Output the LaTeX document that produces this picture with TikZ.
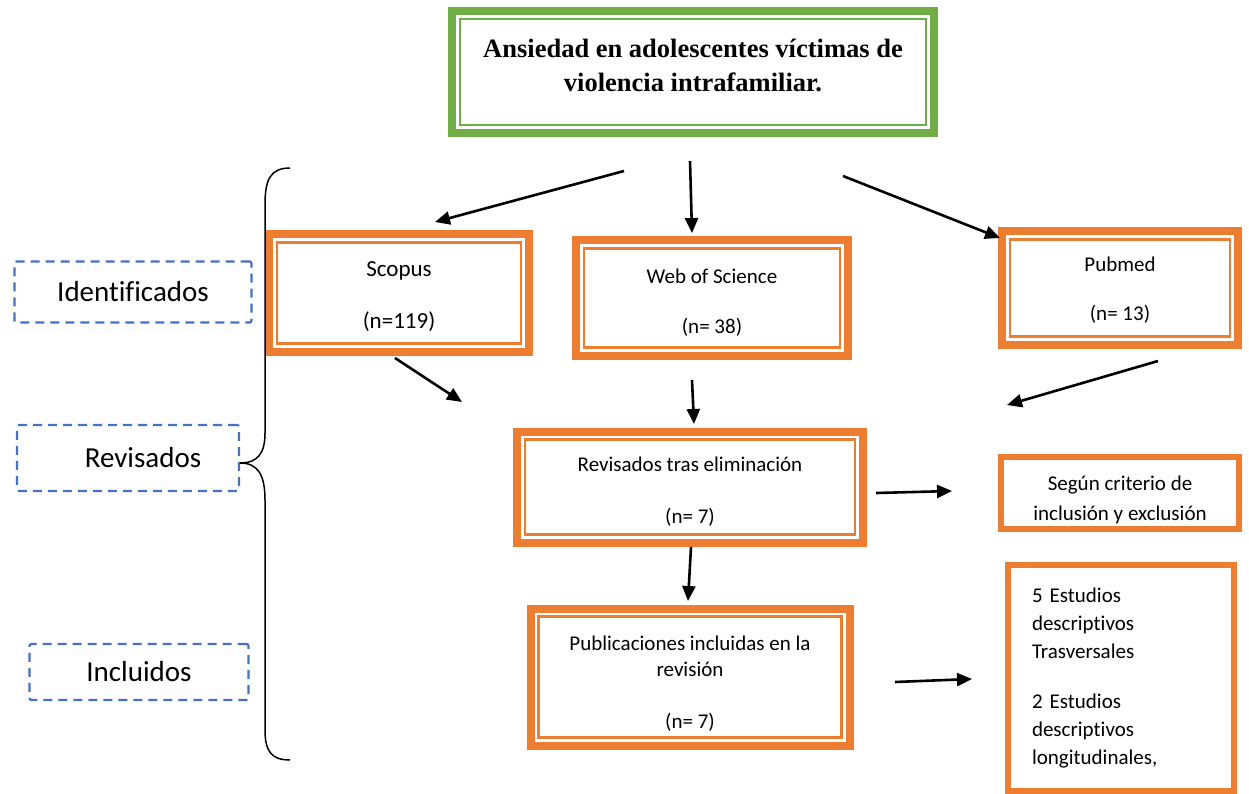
\documentclass[tikz,border=0pt]{standalone}
\usepackage{fontspec}
\setmainfont{Carlito}[Ligatures=NoCommon]
\newfontfamily\titlefont{Liberation Serif}
\usepackage{tikz}
\usetikzlibrary{arrows.meta}

\definecolor{borange}{HTML}{ED7D31}
\definecolor{bgreen}{HTML}{70AD47}
\definecolor{bblue}{HTML}{4472C4}

\newcommand{\topstrut}[1]{\rule{0pt}{#1}}

\begin{document}
\begin{tikzpicture}[x=1pt,y=-1pt]
    \tikzstyle{dedge} = [line width=2.6pt,-{Triangle[length=15pt,width=13pt]},draw=black]
    \tikzstyle{brace} = [line width=1.5pt,draw=black]
    \tikzstyle{dbox}=[
      rectangle,
      draw=borange,
      line width=8pt,
      inner sep=0pt,
      align=center,
      font=\fontsize{21}{26}\selectfont,
      path picture={\draw[draw=borange,line width=2.3pt]
        ([shift={(8pt,-8pt)}]path picture bounding box.north west) rectangle
        ([shift={(-8pt,8pt)}]path picture bounding box.south east);},
    ]
    \tikzstyle{titlebox}=[dbox,draw=bgreen,
      font=\titlefont\bfseries\fontsize{26.5}{34}\selectfont,
      path picture={\draw[draw=bgreen,line width=2.3pt]
        ([shift={(8pt,-8pt)}]path picture bounding box.north west) rectangle
        ([shift={(-8pt,8pt)}]path picture bounding box.south east);},
    ]
    \tikzstyle{sbox}=[
      rectangle,
      draw=borange,
      line width=6pt,
      inner sep=0pt,
      font=\fontsize{21}{30}\selectfont,
    ]
    \tikzstyle{tag}=[
      rectangle,
      draw=bblue,
      line width=2.2pt,
      dash pattern=on 9pt off 6pt,
      rounded corners=2pt,
      inner sep=0pt,
      font=\fontsize{29}{34}\selectfont,
    ]

    \useasboundingbox (0,0) rectangle (1249,794);

    % title and data bases
    \node[titlebox,minimum width=482pt,minimum height=122pt] (title) at (693,72)
      {Ansiedad en adolescentes víctimas de\\violencia intrafamiliar.\rule[-13pt]{0pt}{0pt}};
    \node[dbox,minimum width=260pt,minimum height=117pt,font=\fontsize{23}{26}\selectfont] (scopus) at (399,293)
      {\topstrut{23pt}Scopus\\[26pt](n=119)};
    \node[dbox,minimum width=272pt,minimum height=115pt] (wos) at (712,298)
      {\topstrut{23pt}Web of Science\\[24pt](n= 38)};
    \node[dbox,minimum width=236pt,minimum height=113pt] (pubmed) at (1120,288)
      {\topstrut{18pt}Pubmed\\[23pt](n= 13)};

    % screening
    \node[dbox,minimum width=346pt,minimum height=111pt] (rev) at (690,487)
      {\topstrut{23pt}Revisados tras eliminación\\[26pt](n= 7)};
    \node[dbox,minimum width=319pt,minimum height=137pt] (pub) at (690,677)
      {\topstrut{27pt}Publicaciones incluidas en la\\revisión\\[26pt](n= 7)};
    \node[sbox,minimum width=238pt,minimum height=72pt,align=center] (crit) at (1120,493)
      {\topstrut{28pt}Según criterio de\\inclusión y exclusión};
    \node[sbox,minimum width=226pt,minimum height=226pt,text width=178pt,align=left,
      font=\fontsize{21}{28}\selectfont] (est) at (1121,678)
      {5 Estudios\\descriptivos\\Trasversales\\[22pt]2 Estudios\\descriptivos\\longitudinales,};

    % stages
    \node[tag,minimum width=237pt,minimum height=61pt] (ident) at (133,292) {Identificados};
    \node[tag,minimum width=222pt,minimum height=66pt] (revis) at (128,458) {\hspace{30pt}Revisados};
    \node[tag,minimum width=219pt,minimum height=56pt] (incl) at (139,672) {Incluidos};

    \draw[brace] (290,168) .. controls (270,168) and (265,180) .. (265,205)
      -- (265,433) .. controls (265,453) and (258,463) .. (240,463)
      .. controls (258,463) and (265,475) .. (265,500)
      -- (265,730) .. controls (265,752) and (272,760) .. (290,760);

    \coordinate (a1) at (624,171);
    \coordinate (b1) at (435,222);
    \coordinate (a2) at (690,161);
    \coordinate (b2) at (692,233);
    \coordinate (a3) at (843,176);
    \coordinate (b3) at (1000,238);
    \coordinate (a4) at (395,358);
    \coordinate (b4) at (462,402);
    \coordinate (a5) at (692,380);
    \coordinate (b5) at (694,424);
    \coordinate (a6) at (1158,361);
    \coordinate (b6) at (1007,405);
    \coordinate (a7) at (876,493);
    \coordinate (b7) at (952,491);
    \coordinate (a8) at (691,547);
    \coordinate (b8) at (688,601);
    \coordinate (a9) at (895,682);
    \coordinate (b9) at (972,679);

    \draw[dedge] (a1)--(b1);
    \draw[dedge] (a2)--(b2);
    \draw[dedge] (a3)--(b3);
    \draw[dedge] (a4)--(b4);
    \draw[dedge] (a5)--(b5);
    \draw[dedge] (a6)--(b6);
    \draw[dedge] (a7)--(b7);
    \draw[dedge] (a8)--(b8);
    \draw[dedge] (a9)--(b9);
\end{tikzpicture}
\end{document}
